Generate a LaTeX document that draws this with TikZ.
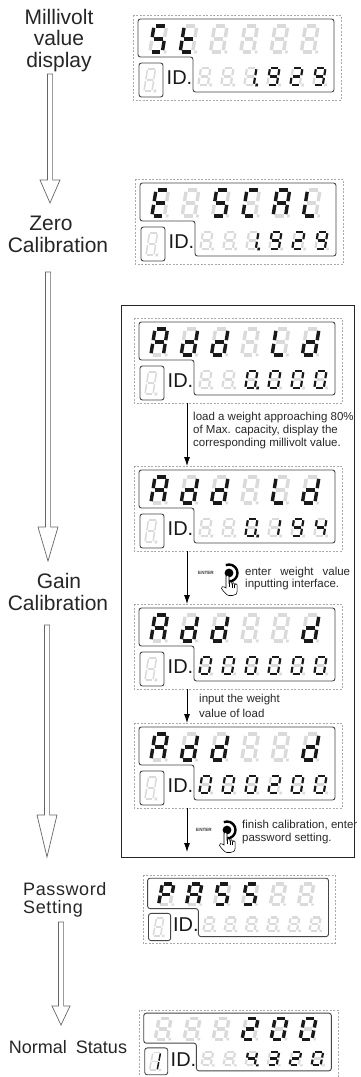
\documentclass[tikz,border=0pt]{standalone}
\usepackage{fontspec}
\setmainfont{Liberation Sans}
\usetikzlibrary{arrows.meta,calc}

\definecolor{segon}{RGB}{25,25,25}
\definecolor{segoff}{RGB}{218,218,218}
\definecolor{dashc}{RGB}{170,170,170}
\definecolor{boxc}{RGB}{70,70,70}
\definecolor{txtc}{RGB}{40,40,40}

\def\segw{2.7}
\def\sg{1.2}
\tikzset{
 segonst/.style={draw=segon, line width=\segw pt},
 segoffst/.style={draw=segoff, line width=\segw pt},
 dashbox/.style={draw=dashc, line width=0.6pt, dash pattern=on 2pt off 1.5pt},
 outline/.style={draw=boxc, line width=0.9pt, rounded corners=2.5pt},
 idtext/.style={font=\fontsize{20}{20}\selectfont, text=black!90, inner sep=0pt},
 lbl/.style={font=\fontsize{21}{21.5}\selectfont, text=black!85, inner sep=0pt},
 lblsm/.style={font=\fontsize{18}{18}\selectfont, text=black!85, inner sep=0pt},
 note/.style={font=\fontsize{11.5}{12.5}\selectfont, text=txtc, inner sep=0pt, anchor=west},
 entertxt/.style={font=\fontsize{4.6}{5}\selectfont\bfseries, text=black!80, inner sep=0pt},
 harr/.style={draw=black!60, line width=0.7pt, fill=white},
 thinarr/.style={draw=black, line width=0.8pt, -{Latex[length=9pt,width=6pt]}},
 bigbox/.style={draw=black!85, line width=1pt},
 handst/.style={draw=black, line width=0.55pt, fill=white},
}

% one segment: #1 = on/off flag, #2 = path
\def\sseg#1#2{\ifnum#1=1 \draw[segonst] #2;\else\draw[segoffst] #2;\fi}
% seven segments a b c d e f g
\def\sdpat#1#2#3#4#5#6#7{%
 \sseg{#1}{(\sg,0) -- (\sW-\sg,0)}%
 \sseg{#2}{(\sW,\sg) -- (\sW,\sH/2-\sg)}%
 \sseg{#3}{(\sW,\sH/2+\sg) -- (\sW,\sH-\sg)}%
 \sseg{#4}{(\sg,\sH) -- (\sW-\sg,\sH)}%
 \sseg{#5}{(0,\sH/2+\sg) -- (0,\sH-\sg)}%
 \sseg{#6}{(0,\sg) -- (0,\sH/2-\sg)}%
 \sseg{#7}{(\sg,\sH/2) -- (\sW-\sg,\sH/2)}}
% digit: x, y (top-left), W, H, pattern, dot flag
\newcommand\sdig[6]{%
 \begin{scope}[shift={(#1,#2)}, xslant=0.16]
  \def\sW{#3}\def\sH{#4}%
  \pgfmathsetmacro\sg{0.5*\segw+0.15}%
  \expandafter\sdpat#5%
  \ifnum#6=1 \def\dc{segon}\else\def\dc{segoff}\fi
  \fill[fill=\dc] ({\sW+1.6},{\sH-1.3}) rectangle ++(2.6,2.6);
 \end{scope}}
% display: #1 scope options, #2 top row, #3 bottom row, #4 id digit, #5 name
\newcommand\disp[5]{%
 \begin{scope}[#1]
  \draw[dashbox] (0,0) rectangle (208,85);
  \draw[outline] (5,4) -- (201,4) -- (201,77) -- (60,77) -- (60,42) -- (5,42) -- cycle;
  \draw[outline] (6,48) rectangle (30,82);
  \node[idtext] (#5id) at (46.5,62.5) {ID.};
  \def\segw{3.4}%
  \foreach \p/\d [count=\i from 0] in {#2} {\sdig{21+30.3*\i}{11}{12.5}{26}{\p}{\d}}
  \def\segw{2.2}%
  \foreach \p/\d [count=\i from 0] in {#3} {\sdig{68+23*\i}{53}{9.5}{17}{\p}{\d}}
  \def\segw{1.5}%
  \sdig{14.5}{54}{8}{22}{#4}{0}
  \coordinate (#5top) at (53,0);
  \coordinate (#5bot) at (53,85);
 \end{scope}}
% enter icon at dot position
\newcommand\entericon[2]{%
 \begin{scope}[shift={(#2)}]
  \node[entertxt] (#1) at (-23,0) {ENTER};
  \fill[black] (0,0) circle (4.4);
  \draw[black, line width=2.4pt] (-112:8.5) arc (-112:100:8.5);
  \draw[handst] (-3,13) -- (-3,3.5) arc (180:360:1.5) -- (0,10) arc (180:360:1.4)
    -- (2.8,11) arc (180:360:1.4) -- (5.6,12) arc (180:360:1.3)
    -- (8.2,17) .. controls (8.2,21) and (6.5,22.5) .. (3.5,22.5)
    -- (0,22.5) .. controls (-2,22.5) and (-5,19) .. (-7.5,15.5)
    .. controls (-8.5,14) and (-6,12.5) .. (-3,15) -- cycle;
  \draw[black, line width=0.45pt] (0,10) -- (0,14) (2.8,11) -- (2.8,14.5) (5.6,12) -- (5.6,15);
 \end{scope}}
% hollow arrow between two named coordinates
\newcommand\harrow[4]{%
 \draw[harr] let \p1=(#1), \p2=(#2) in
  (\x1-2.6pt,\y1) -- (\x1-2.6pt,\y2+#3pt) -- (\x1-#4pt,\y2+#3pt) -- (\x2,\y2)
  -- (\x1+#4pt,\y2+#3pt) -- (\x1+2.6pt,\y2+#3pt) -- (\x1+2.6pt,\y1) -- cycle;}

\begin{document}
\begin{tikzpicture}[x=1pt,y=-1pt]
\useasboundingbox (0,0) rectangle (360,1077);
\fill[white] (0,0) rectangle (360,1077);

% ---- left labels ----
\node[lbl, align=center] (mv) at (59,40.5) {Millivolt\\value\\display};
\node[lbl] (zero) at (51,223) {Zero};
\node[lbl] (zcal) at (58,245) {Calibration};
\node[lbl] (gain) at (59,581) {Gain};
\node[lbl] (gcal) at (58,603) {Calibration};
\node[lblsm, anchor=west] (pw) at (23,889) {P\kern0.6pt a\kern0.6pt s\kern0.6pt s\kern0.6pt w\kern0.6pt o\kern0.6pt r\kern0.6pt d};
\node[lblsm, anchor=west] (pset) at (23,909) {S\kern0.6pt e\kern0.6pt t\kern0.6pt t\kern0.6pt i\kern0.6pt n\kern0.6pt g};
\node[lblsm] (ns) at (68,1047) {Normal\hspace{4pt} Status};

% ---- hollow arrows ----
\coordinate (ha1s) at (50,74);   \coordinate (ha1e) at (50,203);
\coordinate (ha2s) at (48,272);  \coordinate (ha2e) at (48,561);
\coordinate (ha3s) at (47,625);  \coordinate (ha3e) at (47,857);
\coordinate (ha4s) at (61,922);  \coordinate (ha4e) at (61,1025);
\harrow{ha1s}{ha1e}{23}{10}
\harrow{ha2s}{ha2e}{34}{10}
\harrow{ha3s}{ha3e}{42}{10}
\harrow{ha4s}{ha4e}{19}{9}

% ---- displays ----
\disp{shift={(133,15)}}
 {1011011/0,0001111/0,0000000/0,0000000/0,0000000/0,0000000/0}
 {0000000/0,0000000/0,0110000/1,1111011/0,1101101/0,1111011/0}
 {0000000}{d1}
\disp{shift={(135,179)}}
 {1001111/0,0000000/0,1011011/0,1001110/0,1110111/0,0001110/0}
 {0000000/0,0000000/0,0110000/1,1111011/0,1101101/0,1111011/0}
 {0000000}{d2}

\draw[bigbox] (121,305) rectangle (354,857);

\disp{shift={(134,318)}}
 {1110111/0,0111101/0,0111101/0,0000000/0,0001110/0,0111101/0}
 {0000000/0,0000000/0,1111110/1,1111110/0,1111110/0,1111110/0}
 {0000000}{d3}
\disp{shift={(134,466)}}
 {1110111/0,0111101/0,0111101/0,0000000/0,0001110/0,0111101/0}
 {0000000/0,0000000/0,1111110/1,0110000/0,1111011/0,0110011/0}
 {0000000}{d4}
\disp{shift={(134,604)}}
 {1110111/0,0111101/0,0111101/0,0000000/0,0000000/0,0111101/0}
 {1111110/0,1111110/0,1111110/0,1111110/0,1111110/0,1111110/0}
 {0000000}{d5}
\disp{shift={(134,723)}}
 {1110111/0,0111101/0,0111101/0,0000000/0,0000000/0,0111101/0}
 {1111110/0,1111110/0,1111110/0,1101101/0,1111110/0,1111110/0}
 {0000000}{d6}
\disp{shift={(143,875)}, xscale=0.923, yscale=0.8}
 {1100111/0,1110111/0,1011011/0,1011011/0,0000000/0,0000000/0}
 {0000000/0,0000000/0,0000000/0,0000000/0,0000000/0,0000000/0}
 {0000000}{d7}
\disp{shift={(139,1010)}, xscale=0.957, yscale=0.79}
 {0000000/0,0000000/0,0000000/0,1101101/0,1111110/0,1111110/0}
 {0000000/0,0000000/0,0110011/1,1111001/0,1101101/0,1111110/0}
 {0110000}{d8}

% ---- inner arrows ----
\coordinate (gend) at (187,852);
\draw[thinarr] (d3bot) -- (d4top);
\draw[thinarr] (d4bot) -- (d5top);
\draw[thinarr] (d5bot) -- (d6top);
\draw[thinarr] (d6bot) -- (gend);

% ---- notes ----
\node[note] (n1) at (193,418) {load a weight approaching 80\%};
\node[note] (n2) at (193,431) {of Max. capacity, display the};
\node[note] (n3) at (193,443.5) {corresponding millivolt value.};
\entericon{ent1}{229,573}
\node[note] (n4) at (245,573) {enter\hspace{9pt}weight\hspace{9pt}value};
\node[note] (n5) at (245,585) {inputting interface.};
\node[note] (n6) at (199,700) {input the weight};
\node[note] (n7) at (199,713) {value of load};
\entericon{ent2}{227,830}
\node[note] (n8) at (242,825) {finish calibration, enter};
\node[note] (n9) at (242,838.5) {password setting.};
\end{tikzpicture}
\end{document}
